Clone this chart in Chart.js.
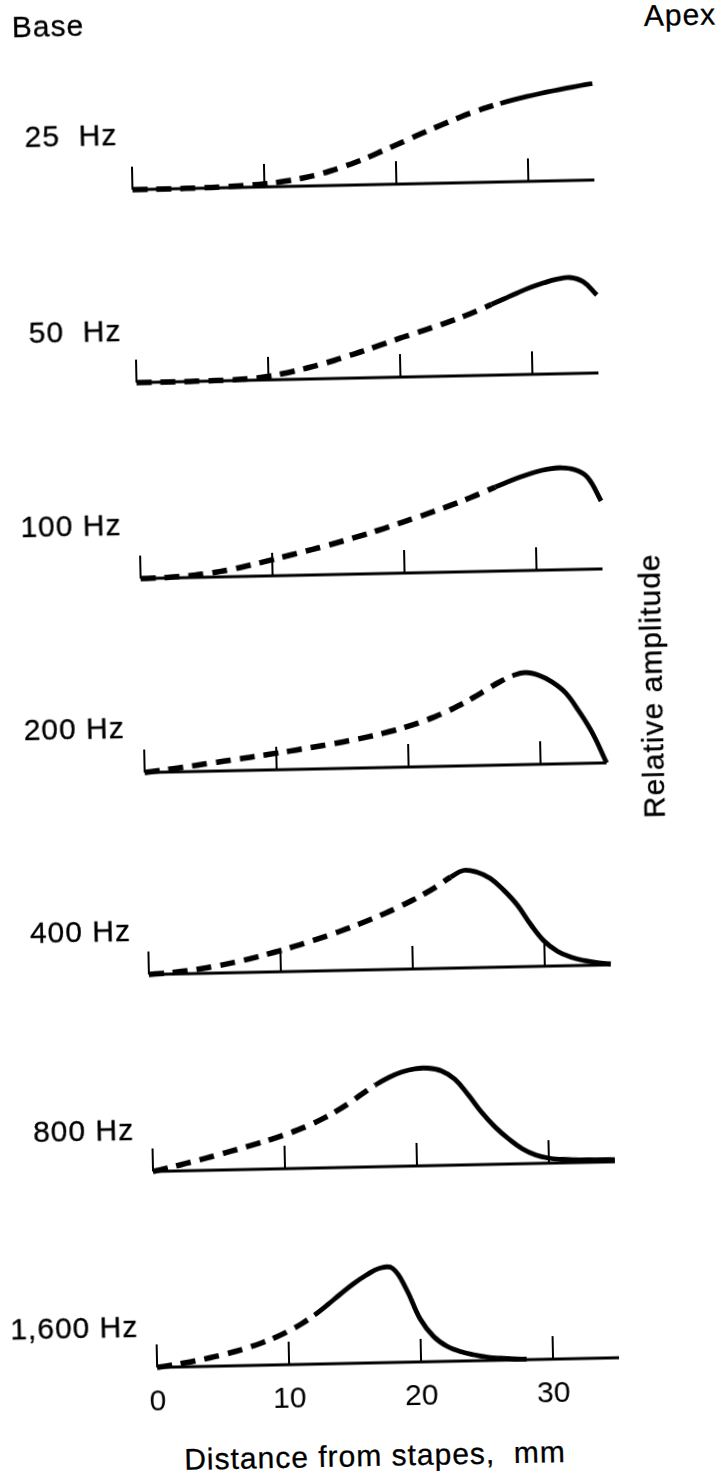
<!DOCTYPE html>
<html>
<head>
<meta charset="utf-8">
<title>Travelling wave envelopes</title>
<script src="https://cdn.jsdelivr.net/npm/chart.js@4.4.1/dist/chart.umd.min.js"></script>
<style>
  html, body { margin: 0; padding: 0; background: #fff; }
  #page { position: relative; width: 723px; height: 1476px; overflow: hidden; background: #fff; }
  /* the scanned figure sits slightly rotated on the page */
  #sheet { position: absolute; left: 0; top: 0; width: 723px; height: 1476px;
           transform: rotate(-1.2deg); transform-origin: 361.5px 738px; }
  #sheet canvas { position: absolute; left: 0; }
  .txt { position: absolute; font-family: "Liberation Sans", Arial, sans-serif; font-size: 30px;
         line-height: 1; letter-spacing: 1px; white-space: pre; color: #000;
         -webkit-text-stroke: 0.3px #000; }
</style>
</head>
<body>
<div id="page"><div id="sheet"></div></div>
<script>
// distance from stapes (mm)
const distanceMm = [0, 1, 2, 3, 4, 5, 6, 7, 8, 9, 10, 11, 12, 13, 14, 15, 16, 17,
                    18, 19, 20, 21, 22, 23, 24, 25, 26, 27, 28, 29, 30, 31, 32, 33, 34, 35];

// relative amplitude
const amp25 = [0, 0, 0, 0.05, 0.15, 0.35, 0.6, 1, 1.5, 2.1, 3, 4.3, 6, 8.2, 11, 14.5, 18.5, 23,
               28, 33.5, 39, 44.6, 50.2, 55.6, 60.9, 66, 70.6, 74.8, 78.5, 81.8, 84.8, 87.5, 90, 92.3, 94.5, 96.5];
const amp50 = [0, 0, 0, 0, 0.1, 0.2, 0.4, 0.7, 1.2, 2, 3.5, 5.7, 8.3, 11.2, 14.5, 18, 22, 26,
               30.2, 34.5, 38.8, 42.8, 46.8, 51, 55.3, 60, 65.2, 70.7, 76.3, 81.8, 86.9, 91.2, 94.6, 96, 91.5, 78];
const amp100 = [0, 0.2, 0.6, 1.3, 2.3, 3.6, 5.4, 7.6, 10.2, 13.1, 16.1, 19.2, 22.3, 25.4, 28.6, 32, 35.5, 39.2,
                43, 47, 51.2, 55.4, 59.6, 64, 68.6, 73.5, 78.7, 84, 89.2, 94, 98, 100.8, 102, 100, 92, 68];
const amp200 = [0, 1.5, 3, 4.6, 6.3, 8, 9.7, 11.4, 13.1, 14.8, 16.6, 18.4, 20.3, 22.2, 24.2, 26.3, 28.6, 31.1,
                33.9, 37, 40.6, 44.7, 49.4, 54.7, 61, 68, 75.5, 83, 89, 92, 89, 82, 71, 52, 29.5, 0];
const amp400 = [0, 0.8, 1.8, 3.1, 4.8, 6.8, 9.1, 11.7, 14.6, 17.8, 21.2, 24.8, 28.6, 32.6, 36.8, 41.3, 46, 51,
                56.3, 62, 68.2, 75, 82.5, 91, 97.5, 95.5, 89, 77, 62, 42, 25, 14.5, 8.5, 4.8, 2.4, 1];
const amp800 = [0, 2.8, 5.8, 8.9, 12.1, 15.4, 18.8, 22.3, 25.9, 29.7, 33.8, 38.3, 43.5, 49.6, 56.6, 64.5, 73.5, 82,
                89, 94.2, 97.2, 97.5, 94.5, 86, 70, 52, 37, 25, 15, 8.5, 5, 3.5, 2.8, 2.5, 2.3, 2.2];
const amp1600 = [0, 1.8, 3.8, 6, 8.5, 11.3, 14.5, 18.2, 22.5, 27.5, 33.5, 40.5, 49, 59, 69.5, 79.5, 88, 94.5,
                 94, 73, 43, 25, 15, 9.5, 6, 3.5, 2, 1, 0.5, null, null, null, null, null, null, null];

const frequencies = ['25  Hz', '50  Hz', '100 Hz', '200 Hz', '400 Hz', '800 Hz', '1,600 Hz'];
// distance (mm) where the measured (solid) part of each envelope begins
const solidFrom = [28, 27, 27, 28, 23, 17, 12];

const tickValues = [0, 10, 20, 30];
const tickLabels = ['0', '10', '20', '30'];

const amplitudes = [amp25, amp50, amp100, amp200, amp400, amp800, amp1600];

// layout (unrotated sheet coordinates)
const FONT = '"Liberation Sans", Arial, sans-serif';
const baselineY = [185, 378, 574, 768, 970, 1167, 1363];
const labelY = [130, 326, 520, 723, 926, 1125, 1322];
const labelRight = [130, 130, 126, 125, 127, 126, 126];

const sheet = document.getElementById('sheet');

function addText(text, x, y, transform) {
  const d = document.createElement('div');
  d.className = 'txt';
  d.textContent = text;
  d.style.left = x + 'px';
  d.style.top = y + 'px';
  d.style.transform = transform;
  sheet.appendChild(d);
}

// baseline with the upward tick marks
const rails = {
  id: 'rails',
  beforeDatasetsDraw(chart) {
    const { ctx, scales: { x, y } } = chart;
    const y0 = y.getPixelForValue(0);
    ctx.save();
    ctx.strokeStyle = '#000';
    ctx.lineWidth = 3;
    ctx.beginPath();
    ctx.moveTo(x.getPixelForValue(x.min), y0);
    ctx.lineTo(x.getPixelForValue(x.max), y0);
    ctx.stroke();
    ctx.lineWidth = 2;
    tickValues.forEach(v => {
      const px = x.getPixelForValue(v);
      ctx.beginPath();
      ctx.moveTo(px, y0);
      ctx.lineTo(px, y0 - 23);
      ctx.stroke();
    });
    ctx.restore();
  }
};

amplitudes.forEach((amp, i) => {
  const last = i === amplitudes.length - 1;
  const cv = document.createElement('canvas');
  cv.width = 723;
  cv.height = last ? 196 : 130;
  cv.style.top = (baselineY[i] - 120) + 'px';
  sheet.appendChild(cv);

  const dashed = c => c.p0.parsed.x < solidFrom[i];

  new Chart(cv, {
    type: 'line',
    data: {
      datasets: [{
        data: amp.map((v, k) => ({ x: distanceMm[k], y: v })),
        borderColor: '#000',
        borderWidth: 4.8,
        pointRadius: 0,
        fill: false,
        clip: false,
        tension: 0.4,
        segment: {
          borderDash: c => dashed(c) ? [15, 9] : undefined,
          borderWidth: c => dashed(c) ? 5.5 : 4.8
        }
      }]
    },
    options: {
      responsive: false,
      animation: false,
      events: [],
      layout: { padding: { left: 144, right: 117, top: 10, bottom: last ? 6 : 10 } },
      plugins: { legend: { display: false }, tooltip: { enabled: false } },
      scales: {
        x: last ? {
          type: 'linear', min: 0, max: 35,
          border: { display: false },
          grid: { display: false, drawTicks: false },
          afterBuildTicks: s => { s.ticks = tickValues.map(v => ({ value: v })); },
          ticks: {
            autoSkip: false, maxRotation: 0, padding: 17, color: '#000',
            font: { family: FONT, size: 30 },
            callback: v => tickLabels[tickValues.indexOf(v)]
          }
        } : { type: 'linear', min: 0, max: 35, display: false },
        y: { min: 0, max: 110, display: false }
      }
    },
    plugins: [rails]
  });

  addText(frequencies[i], labelRight[i], labelY[i], 'translate(-100%, -50%)');
});

addText('Base', 63, 20, 'translate(-50%, -50%)');
addText('Apex', 695, 22, 'translate(-50%, -50%)');
addText('Relative amplitude', 653, 692, 'translate(-50%, -50%) rotate(-90deg)');
addText('Distance from stapes,  mm', 360, 1456, 'translate(-50%, -50%)');
</script>
</body>
</html>
